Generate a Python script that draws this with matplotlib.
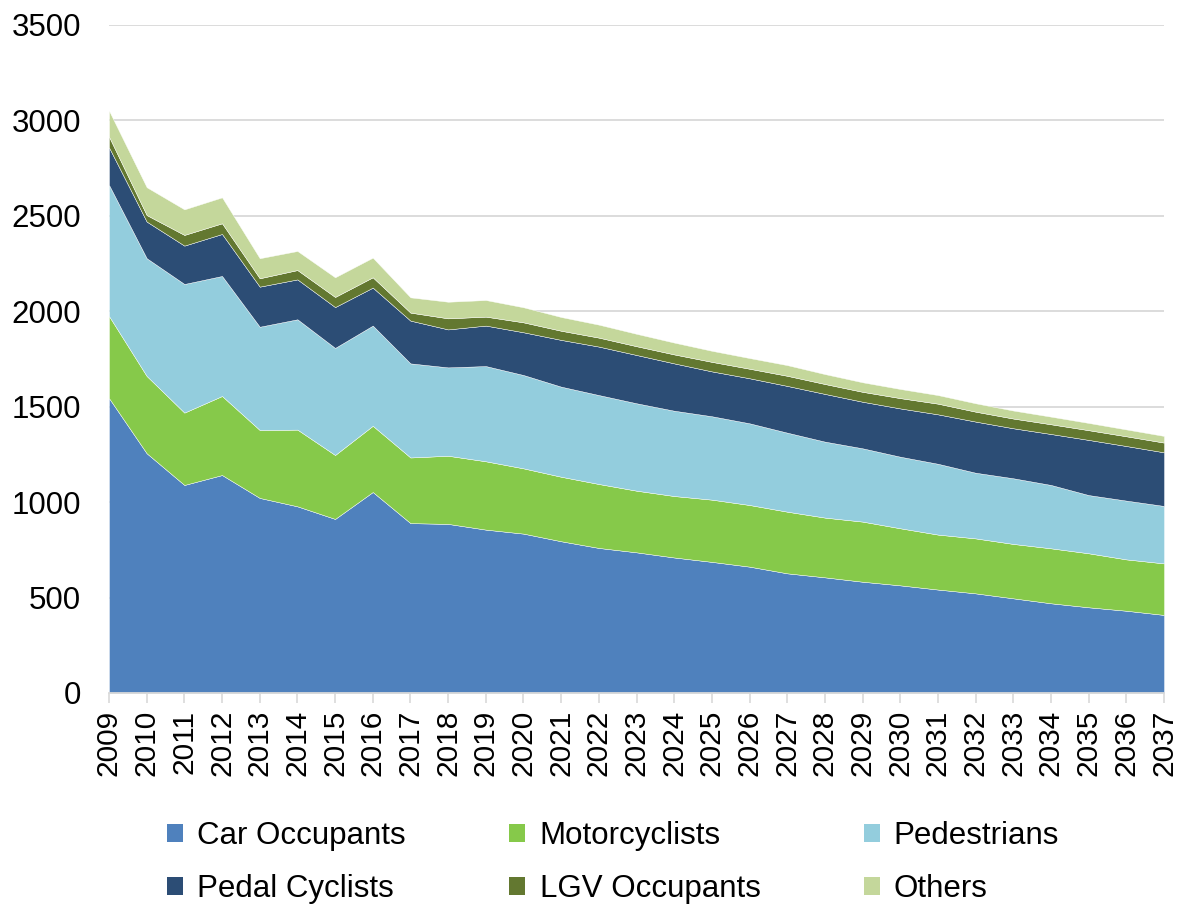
import matplotlib
matplotlib.use("Agg")
import matplotlib.pyplot as plt
from matplotlib.patches import Patch

plt.rcParams['font.family'] = ['Liberation Sans', 'DejaVu Sans']

years = list(range(2009, 2038))
car = [1545, 1256, 1090, 1142, 1022, 978, 912, 1053, 890, 886, 856, 835, 795, 760, 737,
       710, 687, 662, 627, 606, 583, 564, 542, 522, 496, 470, 449, 431, 409]
moto = [430, 405, 379, 414, 356, 402, 335, 347, 344, 357, 358, 342, 338, 335, 323,
        322, 326, 323, 323, 313, 315, 299, 288, 288, 285, 288, 283, 269, 270]
ped = [687, 617, 674, 629, 541, 578, 561, 525, 493, 463, 499, 489, 472, 466, 458,
       447, 437, 428, 414, 398, 384, 375, 371, 344, 344, 332, 305, 308, 301]
pedal = [197, 192, 201, 220, 210, 209, 214, 199, 224, 199, 212, 224, 245, 254, 253,
         248, 235, 236, 245, 250, 244, 253, 259, 268, 262, 267, 289, 286, 281]
lgv = [56, 34, 56, 56, 44, 49, 53, 54, 42, 58, 47, 52, 48, 47, 46,
       47, 50, 50, 53, 52, 52, 54, 56, 52, 51, 51, 51, 51, 51]
others = [136, 146, 134, 136, 105, 100, 103, 103, 80, 87, 87, 79, 72, 68, 65,
          62, 58, 56, 56, 52, 50, 48, 45, 44, 42, 40, 38, 36, 35]

series_names = ["Car Occupants", "Motorcyclists", "Pedestrians",
                "Pedal Cyclists", "LGV Occupants", "Others"]
colors = ["#4F81BD", "#86C94A", "#93CDDD", "#2C4D75", "#637830", "#C4D79B"]

fig = plt.figure(figsize=(11.86, 9.08), dpi=100)
ax = fig.add_axes([109/1186, 1 - 693/908, (1164-109)/1186, (693-25)/908])

x = list(range(len(years)))
ax.stackplot(x, car, moto, ped, pedal, lgv, others, colors=colors,
             edgecolor='white', linewidth=0.3, zorder=2)

ax.set_xlim(0, len(years) - 1)
ax.set_ylim(0, 3500)
ax.set_yticks(range(0, 3501, 500))
ax.set_xticks(x)
ax.set_xticklabels([str(y) for y in years], rotation=90)
ax.tick_params(axis='y', length=0, labelsize=22.5, pad=20, colors='black')
ax.tick_params(axis='x', length=7, width=1.2, color='#D9D9D9', labelsize=21.5, pad=5)
ax.grid(axis='y', color='#D9D9D9', linewidth=1.3, zorder=0)
ax.set_axisbelow(True)
for s in ['top', 'right', 'left']:
    ax.spines[s].set_visible(False)
ax.spines['bottom'].set_color('#D9D9D9')
ax.spines['bottom'].set_linewidth(1.3)

# legend fills column-wise; reorder so rows read like the reference
order = [0, 3, 1, 4, 2, 5]
handles = [Patch(facecolor=colors[i], edgecolor='none') for i in order]
labels = [series_names[i] for i in order]
fig.legend(handles, labels, loc='center', ncol=3,
           bbox_to_anchor=(0.517, 0.050), frameon=False, fontsize=22.5,
           handlelength=0.52, handleheight=0.52, columnspacing=3.3,
           labelspacing=0.72, handletextpad=0.45)

fig.savefig("out.png", dpi=100)
